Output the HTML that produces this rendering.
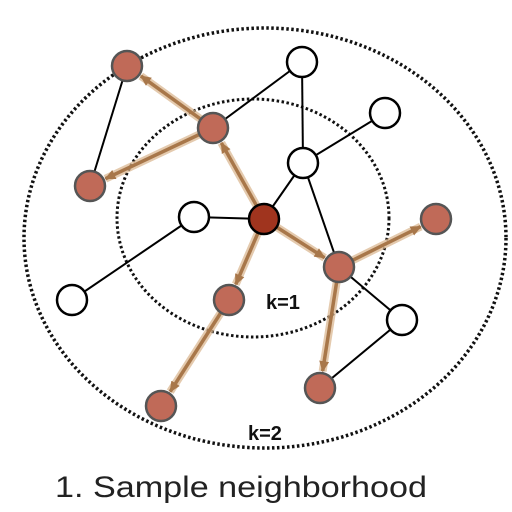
<!DOCTYPE html>
<html><head><meta charset="utf-8"><style>html,body{margin:0;padding:0;background:#fff}svg{display:block}</style></head>
<body>
<svg width="512" height="512" viewBox="0 0 512 512">
<defs>
<marker id="ah" markerWidth="11" markerHeight="10" refX="10" refY="5" orient="auto" markerUnits="userSpaceOnUse" viewBox="0 0 11 10">
<path d="M0,0 L11,5 L0,10 z" fill="#a8774a"/></marker>
</defs>
<ellipse cx="265" cy="238" rx="241" ry="210" fill="none" stroke="#111" stroke-width="3.5" stroke-dasharray="2.5 2.5"/>
<ellipse cx="253" cy="218" rx="136" ry="119" fill="none" stroke="#111" stroke-width="3" stroke-dasharray="2.5 2.5"/>
<g id="edges" stroke="#000" stroke-width="2"></g>
<g id="arrows"></g>
<g id="nodes"></g>
<text x="266" y="309" font-family="Liberation Sans, sans-serif" font-weight="bold" font-size="20" fill="#111">k=1</text>
<text x="248" y="440" font-family="Liberation Sans, sans-serif" font-weight="bold" font-size="20" fill="#111">k=2</text>
<text x="55" y="497" font-family="Liberation Sans, sans-serif" font-size="30" fill="#222" textLength="372" lengthAdjust="spacingAndGlyphs">1. Sample neighborhood</text>
</svg>
<script>
const nodes = [[264,219,'c'],[127,66,'r'],[213,128,'r'],[90,186,'r'],[339,267,'r'],[229,300,'r'],[436,219,'r'],[320,388,'r'],[161,406,'r'],
[302,62,'w'],[385,113,'w'],[303,163,'w'],[194,217,'w'],[72,300,'w'],[402,320,'w']];
const edges = [[1,3],[2,9],[9,11],[11,10],[11,0],[11,4],[0,12],[12,13],[4,14],[14,7]];
const arrows = [[0,2],[2,1],[2,3],[0,4],[4,6],[4,7],[0,5],[5,8]];
const ns='http://www.w3.org/2000/svg';
const E=document.getElementById('edges'),A=document.getElementById('arrows'),N=document.getElementById('nodes');
edges.forEach(e=>{const l=document.createElementNS(ns,'line');


l.setAttribute('x1',nodes[e[0]][0]);l.setAttribute('y1',nodes[e[0]][1]);l.setAttribute('x2',nodes[e[1]][0]);l.setAttribute('y2',nodes[e[1]][1]);E.appendChild(l);});
arrows.forEach(a=>{const p=nodes[a[0]],q=nodes[a[1]];const dx=q[0]-p[0],dy=q[1]-p[1],d=Math.hypot(dx,dy);
const x2=q[0]-dx/d*17,y2=q[1]-dy/d*17;
const h=document.createElementNS(ns,'line');


h.setAttribute('x1',p[0]);h.setAttribute('y1',p[1]);h.setAttribute('x2',x2);h.setAttribute('y2',y2);h.setAttribute('stroke','#d9b48c');h.setAttribute('stroke-width','8');h.setAttribute('opacity','0.7');A.appendChild(h);
const l=document.createElementNS(ns,'line');


l.setAttribute('x1',p[0]);l.setAttribute('y1',p[1]);l.setAttribute('x2',x2);l.setAttribute('y2',y2);l.setAttribute('stroke','#a8774a');l.setAttribute('stroke-width','3.5');l.setAttribute('marker-end','url(#ah)');A.appendChild(l);});
nodes.forEach(n=>{const c=document.createElementNS(ns,'circle');


c.setAttribute('cx',n[0]);c.setAttribute('cy',n[1]);c.setAttribute('r',15);
c.setAttribute('fill',n[2]=='c'?'#a0341e':(n[2]=='r'?'#c06a58':'#fff'));
c.setAttribute('stroke',n[2]=='r'?'#555':'#000');c.setAttribute('stroke-width','2.5');N.appendChild(c);});
</script>
</body></html>
